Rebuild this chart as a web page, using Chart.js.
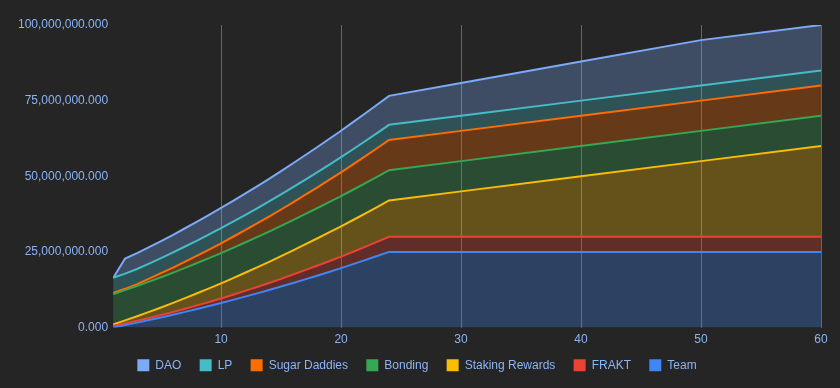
<!DOCTYPE html>
<html>
<head>
<meta charset="utf-8">
<script src="https://cdn.jsdelivr.net/npm/chart.js@4/dist/chart.umd.min.js"></script>
<style>
html,body{margin:0;padding:0;background:#252525;}
#wrap{width:840px;height:388px;position:relative;}
</style>
</head>
<body>
<div id="wrap"><canvas id="c"></canvas></div>
<script>
// Month (x axis)
const months = [1,2,3,4,5,6,7,8,9,10,11,12,13,14,15,16,17,18,19,20,21,22,23,24,30,40,50,60];

// Per-series allocations in millions (stacked bottom -> top)
const team = [0,0.79,1.61,2.46,3.33,4.23,5.16,6.11,7.09,8.10,9.14,10.20,11.28,12.40,13.54,14.70,15.90,17.12,18.37,19.64,20.94,22.27,23.62,25,25,25,25,25];
const frakt = [0.5,0.55,0.6,0.7,0.8,0.9,1.05,1.2,1.35,1.5,1.7,1.9,2.1,2.3,2.55,2.8,3.05,3.3,3.55,3.8,4.1,4.4,4.7,5,5,5,5,5];
const stakingRewards = [0.5,1,1.5,2,2.5,3,3.5,4,4.5,5,5.5,6,6.5,7,7.5,8,8.5,9,9.5,10,10.5,11,11.5,12,15,20,25,30];
const bonding = [10,10,10,10,10,10,10,10,10,10,10,10,10,10,10,10,10,10,10,10,10,10,10,10,10,10,10,10];
const sugarDaddies = [0.4,0.45,0.64,0.98,1.33,1.69,2.06,2.44,2.84,3.24,3.66,4.08,4.51,4.96,5.42,5.88,6.36,6.85,7.35,7.86,8.38,8.91,9.45,10,10,10,10,10];
const lp = [5,5,5,5,5,5,5,5,5,5,5,5,5,5,5,5,5,5,5,5,5,5,5,5,5,5,5,5];
const dao = [0,5,5.21,5.42,5.63,5.83,6.04,6.25,6.46,6.67,6.88,7.08,7.29,7.5,7.71,7.92,8.13,8.33,8.54,8.75,8.96,9.17,9.38,9.58,10.83,12.92,15,15];

const seriesNames = ['Team','FRAKT','Staking Rewards','Bonding','Sugar Daddies','LP','DAO'];
const seriesValues = [team, frakt, stakingRewards, bonding, sugarDaddies, lp, dao];
const seriesColors = ['#4285F4','#EA4335','#FBBC04','#34A853','#FF6D01','#46BDC6','#7BAAF7'];

const xTickValues = [10,20,30,40,50,60];
const yTickValues = [0,25000000,50000000,75000000,100000000];

const FONT = 'Arial, "Liberation Sans", sans-serif';
const TEXT = '#8ab4f8';
const LEGEND_SHIFT = 3.5;

function rgba(hex, a){
  const n = parseInt(hex.slice(1),16);
  return 'rgba(' + ((n>>16)&255) + ',' + ((n>>8)&255) + ',' + (n&255) + ',' + a + ')';
}

const datasets = seriesNames.map((name, i) => ({
  label: name,
  data: months.map((m, j) => ({x: m, y: seriesValues[i][j] * 1e6})),
  borderColor: seriesColors[i],
  backgroundColor: rgba(seriesColors[i], 0.3),
  borderWidth: 2,
  pointRadius: 0,
  pointHoverRadius: 0,
  tension: 0,
  fill: i === 0 ? 'origin' : '-1'
}));

// Pull the legend row slightly closer to the axis labels
const legendShift = {
  id: 'legendShift',
  afterInit(chart) {
    const lg = chart.legend;
    if (!lg) return;
    const origFit = lg.fit.bind(lg);
    const origDraw = lg.draw.bind(lg);
    lg.fit = function() { origFit(); this.height -= LEGEND_SHIFT; };
    lg.draw = function() { this.top -= LEGEND_SHIFT; origDraw(); this.top += LEGEND_SHIFT; };
  }
};

new Chart(document.getElementById('c'), {
  type: 'line',
  data: { datasets },
  plugins: [legendShift],
  options: {
    responsive: true,
    maintainAspectRatio: false,
    animation: false,
    layout: { padding: { left: 13, right: 19, top: 25, bottom: 6.7 } },
    plugins: {
      tooltip: { enabled: false },
      legend: {
        position: 'bottom',
        reverse: true,
        labels: {
          boxWidth: 12,
          boxHeight: 12,
          padding: 18.3,
          color: TEXT,
          font: { family: FONT, size: 12 },
          generateLabels: (chart) => {
            const items = Chart.defaults.plugins.legend.labels.generateLabels(chart);
            items.forEach(it => {
              it.fillStyle = seriesColors[it.datasetIndex];
              it.strokeStyle = seriesColors[it.datasetIndex];
              it.lineWidth = 0;
            });
            return items;
          }
        }
      }
    },
    scales: {
      x: {
        type: 'linear',
        min: 1,
        max: 60,
        afterBuildTicks: (s) => { s.ticks = xTickValues.map(v => ({value: v})); },
        afterFit: (s) => { s.height = 17; },
        grid: { color: 'rgba(255,255,255,0.3)', lineWidth: 1, drawTicks: false },
        border: { display: false },
        ticks: {
          color: TEXT,
          padding: 10.6,
          maxRotation: 0,
          font: { family: FONT, size: 12, lineHeight: 0.2 }
        }
      },
      y: {
        stacked: true,
        min: 0,
        max: 100000000,
        afterBuildTicks: (s) => { s.ticks = yTickValues.map(v => ({value: v})); },
        grid: { display: false, drawTicks: false },
        border: { display: false },
        ticks: {
          color: TEXT,
          padding: 5,
          font: { family: FONT, size: 12 },
          callback: (v) => Number(v).toLocaleString('en-US', {minimumFractionDigits: 3, maximumFractionDigits: 3})
        }
      }
    }
  }
});
</script>
</body>
</html>
